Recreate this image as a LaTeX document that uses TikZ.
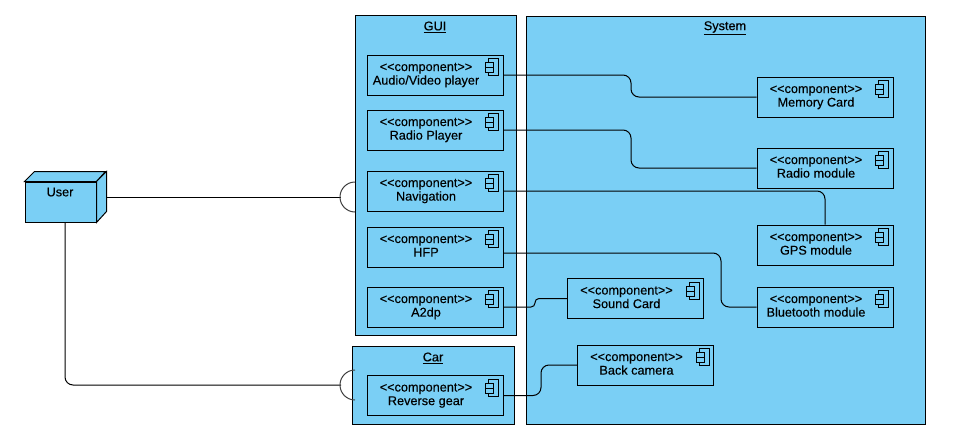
\documentclass[tikz,border=0pt]{standalone}
\usepackage{fontspec}
\setmainfont[FakeBold=0.25]{Liberation Sans}
\usetikzlibrary{calc}

\definecolor{umlblue}{RGB}{122,207,245}
\newcommand{\comptext}[1]{\hbox{\begin{tabular}{@{}c@{}}<{}<component>{}>\\[-0.4pt]#1\end{tabular}\kern18pt}}

\begin{document}
\begin{tikzpicture}[x=1pt, y=-1pt, line width=1pt, font=\fontsize{12.7}{14}\selectfont,
    package/.style={draw, fill=umlblue, inner sep=0pt},
    component/.style={draw, fill=umlblue, inner sep=0pt, minimum width=136pt, minimum height=40pt},
    wire/.style={rounded corners=8pt},
    socket/.style={draw=black!75}]
    \useasboundingbox (0,0) rectangle (956,442);

    % Draw the packages
    \node[package, minimum width=161pt, minimum height=320pt] (gui) at (435.5,175) {};
    \node (guititle) at (435,27) {\underline{GUI}};
    \node[package, minimum width=162pt, minimum height=78pt] (car) at (433,385) {};
    \node (cartitle) at (433,358) {\underline{Car}};
    \node[package, minimum width=399pt, minimum height=408pt] (system) at (725.5,220) {};
    \node (systemtitle) at (725,28) {\underline{System}};

    % Draw the User cube
    \node[package, minimum width=71pt, minimum height=40pt] (user) at (60.5,202) {};
    \draw[fill=umlblue] (user.north west) -- ++(10,-10) -- ++(71,0) -- (user.north east) -- cycle;
    \draw[fill=umlblue] (user.north east) -- ++(10,-10) -- ++(0,40) -- (user.south east) -- cycle;
    \node (usertitle) at (60,192) {User};

    % Components inside GUI
    \node[component] (audio) at (435,75) {\comptext{Audio/Video player}};
    \node[component] (radioplayer) at (435,130) {\comptext{Radio Player}};
    \node[component] (navigation) at (435,191) {\comptext{Navigation}};
    \node[component] (hfp) at (435,247) {\comptext{HFP}};
    \node[component] (atwodp) at (435,307) {\comptext{A2dp}};

    % Component inside Car
    \node[component] (reverse) at (435,395.5) {\comptext{Reverse gear}};

    % Components inside System
    \node[component] (memory) at (825,97) {\comptext{Memory Card}};
    \node[component] (radiomodule) at (825,168) {\comptext{Radio module}};
    \node[component] (gps) at (825,245) {\comptext{GPS module}};
    \node[component] (bluetooth) at (825,307) {\comptext{Bluetooth module}};
    \node[component] (sound) at (635.5,298.5) {\comptext{Sound Card}};
    \node[component] (camera) at (645.5,365) {\comptext{Back camera}};

    % Component icon in the corner of every box
    \foreach \comp in {audio,radioplayer,navigation,hfp,atwodp,reverse,memory,radiomodule,gps,bluetooth,sound,camera} {
        \draw ($(\comp.north east)+(-15,4)$) rectangle ($(\comp.north east)+(-5,21)$);
        \draw[fill=umlblue] ($(\comp.north east)+(-18,8)$) rectangle ($(\comp.north east)+(-10,13)$);
        \draw[fill=umlblue] ($(\comp.north east)+(-18,13)$) rectangle ($(\comp.north east)+(-10,18)$);
    }

    % Connectors between components
    \coordinate (bendmemory) at (631,85);
    \coordinate (bendradio) at (631,150);
    \coordinate (bendhfp) at (721,280);
    \coordinate (bendsound) at (535,302);
    \coordinate (bendcamera) at (541,380);
    \coordinate (hfpout) at ($(hfp.east)+(0,6)$);
    \draw[wire] (audio.east) -- (audio.east -| bendmemory) -- (bendmemory |- memory.west) -- (memory.west);
    \draw[wire] (radioplayer.east) -- (radioplayer.east -| bendradio) -- (bendradio |- radiomodule.west) -- (radiomodule.west);
    \draw[wire] (navigation.east) -| (gps.north);
    \draw[wire] (hfpout) -- (hfpout -| bendhfp) -- (bendhfp |- bluetooth.west) -- (bluetooth.west);
    \draw[wire, rounded corners=4pt] (atwodp.east) -- (atwodp.east -| bendsound) -- (bendsound |- sound.west) -- (sound.west);
    \draw[wire] (reverse.east) -- (reverse.east -| bendcamera) -- (bendcamera |- camera.west) -- (camera.west);

    % Connectors from User to the sockets
    \coordinate (useroutgui) at ($(user.east)+(10,-5)$);
    \coordinate (guisocket) at (341,197);
    \coordinate (carsocket) at (341,385);
    \draw (useroutgui) -- (guisocket);
    \draw[wire] (user.south -| 65,0) |- (carsocket);
    \draw[socket] (355,212) arc (90:270:15);
    \draw[socket] (355,400) arc (90:270:15);
\end{tikzpicture}
\end{document}
